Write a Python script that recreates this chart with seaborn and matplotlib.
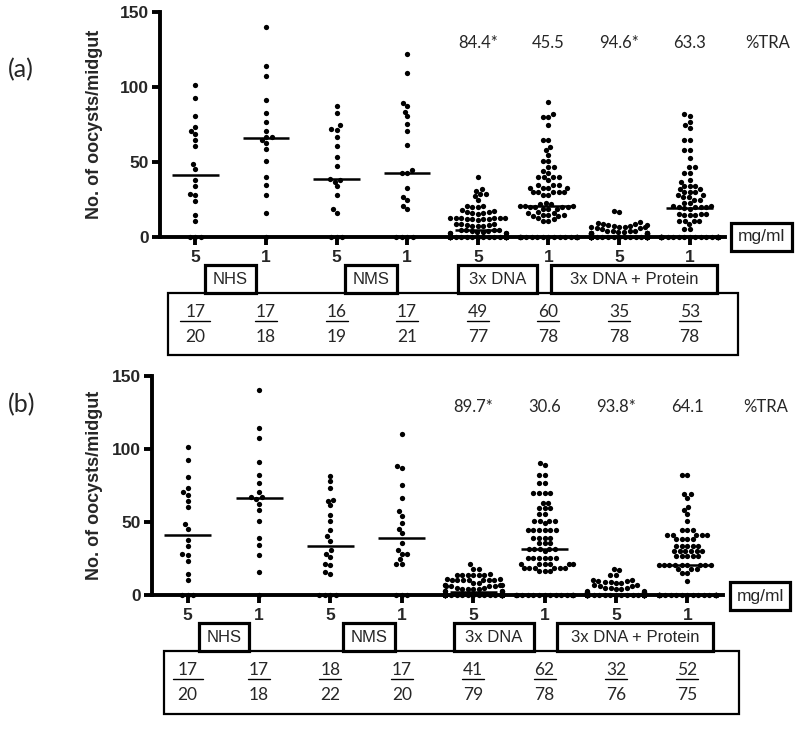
import numpy as np
import pandas as pd
import matplotlib
matplotlib.use("Agg")
import matplotlib.pyplot as plt
import seaborn as sns
from matplotlib.patches import Rectangle
from matplotlib.lines import Line2D
import matplotlib.transforms as mtransforms

# ------------------------------------------------------------------ data
groups = ["NHS 5", "NHS 1", "NMS 5", "NMS 1", "DNA 5", "DNA 1", "DNAP 5", "DNAP 1"]
dose_labels = ["5", "1", "5", "1", "5", "1", "5", "1"]
group_names = ["NHS", "NMS", "3x DNA", "3x DNA + Protein"]

# panel (a): oocyst counts of infected (non-zero) mosquitoes
a_nhs5 = [101.5, 92.4, 80.4, 73.6, 70.7, 68.5, 64.7, 60.7, 48.7, 45.6, 37.7, 33.7,
          28.6, 27.7, 23.9, 14.8, 10.9]
a_nhs1 = [140.0, 114.3, 107.2, 91.5, 82.4, 76.4, 70.5, 66.7, 66.7, 64.7, 62.5, 58.7,
          50.5, 39.9, 34.6, 27.7, 15.7]
a_nms5 = [87.3, 82.4, 74.5, 72.2, 71.6, 66.7, 60.7, 53.6, 47.6, 38.8, 38.1, 37.0,
          33.7, 27.7, 18.6, 15.7]
a_nms1 = [122.3, 109.5, 89.5, 87.3, 83.5, 80.4, 75.6, 70.5, 61.6, 44.8, 43.0, 42.8,
          32.6, 26.8, 24.8, 20.8, 18.6]
a_dna5 = [40, 32, 31, 28.5, 27.5, 28.5, 24.5, 21, 20, 20, 21, 17.5, 17, 16, 15.5, 16, 17, 18,
          13, 13, 12.5, 12, 12, 11.5, 12, 12, 12.5, 13, 13,
          9, 8.5, 8, 7.5, 7.5, 7.5, 8, 8.5,
          5, 4.5, 4, 3.5, 3, 3, 3, 3.5, 4, 4.5, 5, 3]
a_dna1 = [90, 82, 80, 80, 75, 65, 65, 60, 58, 55, 51, 51, 47, 47, 44, 43, 40, 40, 40, 40,
          38, 35, 35, 35, 33, 33, 33, 33, 30, 30, 30, 30, 30, 28, 28,
          23, 22, 22, 21, 21, 21, 20, 20, 20, 20, 19, 19, 19,
          17, 16, 16, 15, 15, 15, 14, 14, 13,
          12, 11, 11]
a_dnap5 = [17.5, 17, 10, 9.5, 9, 9,
           8, 7.5, 7, 6.5, 6, 5.5, 6, 6.5, 7, 7.5, 8,
           4, 4, 3.5, 3, 3, 2.5, 2.5, 2, 2, 2, 2, 2.5, 2.5, 3, 3, 3.5, 4, 4]
a_dnap1 = [82, 81, 77, 75, 73, 65, 65, 58, 58, 53, 46.5, 46.5, 43, 43, 38, 37,
           34, 34, 34, 32, 32, 30, 30, 30, 28, 28, 26.5, 26.5, 25, 25, 23, 23,
           21, 20.5, 20, 20, 20, 20, 19.5, 19,
           15.5, 15.5, 15.5, 14.5, 14.5, 14.5, 11, 11, 11, 11, 9, 5.5, 5.5]
a_infected = [17, 17, 16, 17, 49, 60, 35, 53]
a_total = [20, 18, 19, 21, 77, 78, 78, 78]
a_tra = [84.4, 45.5, 94.6, 63.3]
a_tra_sig = [True, False, True, False]

# panel (b)
b_nhs5 = [101.6, 92.3, 80.5, 73.6, 70.5, 68.6, 64.1, 60.2, 48.4, 45.2, 37.5, 33.4,
          28.0, 27.3, 23.4, 14.3, 10.2]
b_nhs1 = [140.5, 114.3, 107.3, 91.1, 82.5, 76.4, 70.5, 66.8, 66.8, 65.5, 62.3, 58.4,
          50.7, 39.3, 34.3, 27.3, 15.5]
b_nms5 = [81.8, 78.2, 73.4, 65.2, 64.5, 61.4, 54.5, 50.5, 44.3, 40.2, 37.3, 30.5,
          28.4, 26.1, 21.4, 20.5, 15.5, 14.1]
b_nms1 = [110.2, 88.6, 87.3, 75.5, 66.4, 57.5, 54.3, 49.3, 45.5, 42.5, 35.5, 30.5,
          28.4, 28.2, 24.8, 21.4, 21.4]
b_dna5 = [21, 18, 18, 14.5, 14, 14, 14, 14, 14, 14,
          11, 10, 10, 10, 10, 10, 10, 10, 11,
          8, 7, 7, 6, 6, 6, 6, 7, 7, 8,
          5, 4, 4, 3, 3, 3, 3, 4, 4, 5, 2, 1]
b_dna1 = [90.7, 88.9, 82, 82, 76.4, 76.4, 70.2, 70.2, 70.2, 70.2,
          62.7, 62.7, 59.3, 59.3, 59.3, 55.5, 55.5,
          50.7, 50.7, 50.7, 50.7, 49,
          44.5, 44.5, 44.5, 44.5, 44.5, 44.5,
          39.3, 39.3, 39.3, 39.3, 35.5, 35.5, 35.5,
          31.5, 31.5, 31.5, 31.5, 31.5, 29.8,
          25.2, 25.2, 25.2, 25.2, 25.2, 25.2,
          21.4, 21.4, 21.4, 21.4, 21.4, 21.4,
          18.4, 18.4, 18.4, 18.4, 18.4, 18.4,
          16.1, 16.1, 16.1]
b_dnap5 = [18, 17, 14, 14, 10.5, 10.5,
           9.5, 9, 8, 7, 6, 5, 5, 5, 6, 7, 8, 9, 9.5,
           4, 3, 2, 2, 1.5, 1, 1, 1, 1.5, 2, 2, 3, 4]
b_dnap1 = [82, 82, 69.5, 69.5, 66.6, 60.5, 58.2, 55.5, 50.7,
           44.5, 44.5, 44.5, 41, 41, 41, 41, 41,
           38.2, 38.2, 38.2, 38.2, 33.6, 33.6, 33.6, 33.6, 33.6,
           29.8, 29.8, 29.8, 29.8, 29.8, 29.8, 26.4, 26.4, 26.4, 26.4, 26.4,
           20.7, 20.7, 20.7, 20.7, 20.7, 20.7, 20.7, 20.7, 20.7,
           17.7, 17.7, 17.7, 15, 15, 9.3]
b_infected = [17, 17, 18, 17, 41, 62, 32, 52]
b_total = [20, 18, 22, 20, 79, 78, 76, 75]
b_tra = [89.7, 30.6, 93.8, 64.1]
b_tra_sig = [True, False, True, False]

a_lists = [a_nhs5, a_nhs1, a_nms5, a_nms1, a_dna5, a_dna1, a_dnap5, a_dnap1]
b_lists = [b_nhs5, b_nhs1, b_nms5, b_nms1, b_dna5, b_dna1, b_dnap5, b_dnap1]

# ------------------------------------------------------------------ style
sns.set_theme(style="ticks")
plt.rcParams["font.family"] = ["Liberation Sans", "DejaVu Sans"]
NUMF = ["Lato", "DejaVu Sans"]

W, H = 800, 732
fig = plt.figure(figsize=(W / 100, H / 100), dpi=100)


def fx(px):
    return px / W


def fy(py):
    return 1 - py / H


def build_frame(lists, infected, total):
    rows = []
    for g, vals, n_inf, n_tot in zip(groups, lists, infected, total):
        allv = list(vals) + [0.0] * (n_tot - n_inf)
        rows += [(g, v) for v in allv]
    return pd.DataFrame(rows, columns=["group", "oocysts"])


def draw_panel(ax, lists, infected, total, tra, sig, L):
    df = build_frame(lists, infected, total)
    ax.set_ylim(0, 150)
    sns.swarmplot(data=df, x="group", y="oocysts", order=groups, color="black",
                  size=3.8, warn_thresh=1, ax=ax, zorder=3)
    for c in ax.collections:
        c.set_clip_on(False)
    meds = df.groupby("group", sort=False)["oocysts"].median().reindex(groups).values
    pos = np.arange(len(groups))
    ax.hlines(meds, pos - 0.33, pos + 0.33, color="black", lw=1.8, zorder=4, clip_on=False)
    ax.set_xlim(-0.5, len(groups) - 0.5)
    ax.set_ylim(0, 150)

    for s in ["top", "right"]:
        ax.spines[s].set_visible(False)
    for s in ["left", "bottom"]:
        ax.spines[s].set_linewidth(2.8)
        ax.spines[s].set_color("black")
    ax.tick_params(axis="both", width=2.8, length=6, direction="out", color="black")
    ax.tick_params(axis="x", pad=3)
    ax.tick_params(axis="y", pad=2)
    ax.set_yticks([0, 50, 100, 150])
    ax.set_yticklabels(["0", "50", "100", "150"], fontweight="bold", fontsize=12.5)
    ax.set_xticks(pos)
    ax.set_xticklabels(dose_labels, fontweight="bold", fontsize=12.5)
    ax.set_xlabel("")
    ax.set_ylabel("No. of oocysts/midgut", fontweight="bold", fontsize=13,
                  labelpad=L["labelpad"])

    # %TRA values
    for i, (v, s) in enumerate(zip(tra, sig)):
        ax.text(4 + i, 129, f"{v:.1f}" + ("*" if s else ""), ha="center", va="center",
                fontsize=12, family=NUMF, clip_on=False)
    ax.text(8.1, 129, "%TRA", ha="center", va="center", fontsize=12, family=NUMF,
            clip_on=False)

    # panel letter
    fig.text(fx(8), fy(L["letter_y"]), L["letter"], ha="left", va="center",
             fontsize=18, family=NUMF)

    # mg/ml box
    x0, x1, y0, y1 = L["mg"]
    fig.patches.append(Rectangle((fx(x0), fy(y1)), fx(x1) - fx(x0), fy(y0) - fy(y1),
                                 transform=fig.transFigure, fill=False, lw=2.3,
                                 edgecolor="black"))
    fig.text(fx((x0 + x1) / 2), fy((y0 + y1) / 2), "mg/ml", ha="center", va="center",
             fontsize=12.5)

    # table frame
    tx0, tx1, ty0, ty1 = L["table"]
    fig.patches.append(Rectangle((fx(tx0), fy(ty1)), fx(tx1) - fx(tx0), fy(ty0) - fy(ty1),
                                 transform=fig.transFigure, fill=False, lw=1.6,
                                 edgecolor="black", zorder=1))
    # group boxes
    by0, by1 = L["box_y"]
    for name, (bx0, bx1) in zip(group_names, L["boxes"]):
        fig.patches.append(Rectangle((fx(bx0), fy(by1)), fx(bx1) - fx(bx0), fy(by0) - fy(by1),
                                     transform=fig.transFigure, facecolor="white",
                                     lw=2.3, edgecolor="black", zorder=2))
        fig.text(fx((bx0 + bx1) / 2), fy((by0 + by1) / 2 + 1), name, ha="center",
                 va="center", fontsize=12, zorder=3)

    # fractions
    trans = mtransforms.blended_transform_factory(ax.transData, fig.transFigure)
    ny, uy, dy = L["frac_y"]
    for i, (n_inf, n_tot) in enumerate(zip(infected, total)):
        ax.text(i, fy(ny), str(n_inf), transform=trans, ha="center", va="center",
                fontsize=12.5, family=NUMF, clip_on=False)
        ax.text(i, fy(dy), str(n_tot), transform=trans, ha="center", va="center",
                fontsize=12.5, family=NUMF, clip_on=False)
        half = 15 if i == 0 else 11
        xc = ax.transData.transform((i, 0))[0] / fig.dpi * 100  # pixel x
        fig.lines.append(Line2D([fx(xc - half), fx(xc + half)], [fy(uy), fy(uy)],
                                transform=fig.transFigure, color="black", lw=1.0))


ax_a = fig.add_axes([fx(160), fy(237), fx(725) - fx(160), fy(12) - fy(237)])
ax_b = fig.add_axes([fx(152), fy(595), fx(723) - fx(152), fy(376) - fy(595)])

LA = dict(letter="(a)", letter_y=70, labelpad=12, mg=(731, 792, 223, 251),
          table=(168, 738, 293, 355), box_y=(265, 293),
          boxes=[(205, 256), (345, 397), (458, 537), (551, 717)],
          frac_y=(312, 321, 337))
LB = dict(letter="(b)", letter_y=405, labelpad=6.5, mg=(730, 790, 582, 610),
          table=(164, 739, 651, 714), box_y=(623, 651),
          boxes=[(199, 249), (343, 395), (454, 534), (557, 713)],
          frac_y=(670, 679, 695))

draw_panel(ax_a, a_lists, a_infected, a_total, a_tra, a_tra_sig, LA)
draw_panel(ax_b, b_lists, b_infected, b_total, b_tra, b_tra_sig, LB)

fig.savefig("out.png", dpi=100)
